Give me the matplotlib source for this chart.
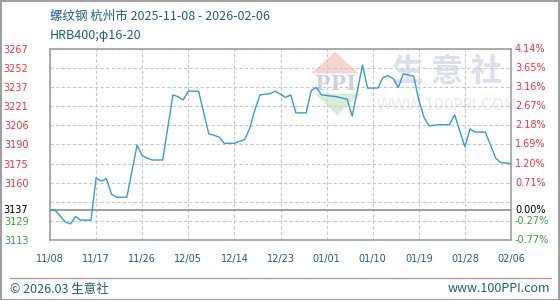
import matplotlib
matplotlib.use('Agg')
import matplotlib.pyplot as plt
import numpy as np
import pandas as pd
from matplotlib.patches import Polygon, Rectangle
from matplotlib.transforms import IdentityTransform
from matplotlib.lines import Line2D

# ---------------- data ----------------
title_text = "螺纹钢 杭州市 2025-11-08 - 2026-02-06"
subtitle_text = "HRB400;φ16-20"
footer_left = "© 2026.03 生意社"
footer_right = "www.100PPI.com"

dates = ['2025-11-08', '2025-11-09', '2025-11-11', '2025-11-12', '2025-11-13',
         '2025-11-14', '2025-11-16', '2025-11-17', '2025-11-18', '2025-11-19',
         '2025-11-20', '2025-11-21', '2025-11-23', '2025-11-25', '2025-11-26',
         '2025-11-27', '2025-11-28', '2025-11-30', '2025-12-02', '2025-12-03',
         '2025-12-04', '2025-12-05', '2025-12-07', '2025-12-09', '2025-12-10',
         '2025-12-11', '2025-12-12', '2025-12-14', '2025-12-15', '2025-12-16',
         '2025-12-17', '2025-12-18', '2025-12-19', '2025-12-21', '2025-12-22',
         '2025-12-24', '2025-12-25', '2025-12-26', '2025-12-28', '2025-12-29',
         '2025-12-30', '2025-12-31', '2026-01-03', '2026-01-05', '2026-01-06',
         '2026-01-07', '2026-01-08', '2026-01-09', '2026-01-11', '2026-01-12',
         '2026-01-13', '2026-01-14', '2026-01-15', '2026-01-16', '2026-01-18',
         '2026-01-19', '2026-01-20', '2026-01-21', '2026-01-23', '2026-01-25',
         '2026-01-26', '2026-01-28', '2026-01-29', '2026-01-30', '2026-02-01',
         '2026-02-03', '2026-02-04', '2026-02-06']
prices = [3137, 3137, 3127.5, 3126, 3132,
          3129, 3129, 3163, 3160.5, 3162.5,
          3150, 3147.5, 3147.5, 3189.5, 3181,
          3179, 3177.5, 3177.5, 3230, 3228.5,
          3226, 3233, 3233, 3198.5, 3197.5,
          3196, 3191, 3191, 3192.5, 3194,
          3203, 3218, 3230, 3231, 3233,
          3228, 3230, 3215.5, 3215.5, 3233.5,
          3236, 3230, 3228.5, 3226.5, 3213,
          3233, 3254, 3235.5, 3235.5, 3244,
          3245.5, 3243, 3236, 3247, 3245,
          3226, 3212, 3205, 3206, 3206,
          3214, 3188, 3202.5, 3200, 3200,
          3179, 3175.5, 3174.5]

base_price = 3137
y_min, y_max = 3113, 3267
left_labels = ['3113', '3129', '', '3160', '3175', '3190', '3206', '3221', '3237', '3252', '3267']
right_labels = ['-0.77%', '-0.27%', '', '0.71%', '1.20%', '1.69%', '2.18%', '2.67%', '3.16%', '3.65%', '4.14%']
base_left_label = '3137'
base_right_label = '0.00%'
x_tick_labels = ['11/08', '11/17', '11/26', '12/05', '12/14', '12/23',
                 '01/01', '01/10', '01/19', '01/28', '02/06']

# ---------------- style ----------------
W, H = 560, 300
CJK = ['Noto Sans CJK SC', 'DejaVu Sans']
blue_text = '#1F5F8B'
line_color = '#3A9AD9'
red = '#FF3333'
green = '#33AA33'
frame_gray = '#A0A0A0'
grid_gray = '#C8C8C8'
tick_fs = 7

fig = plt.figure(figsize=(W / 100, H / 100), dpi=100)
fig.patch.set_facecolor('white')

def fx(x):
    return x / W

def fy(y):
    return 1 - y / H

ax = fig.add_axes([fx(50), fy(240), 461 / W, 191 / H])
ax.set_facecolor('white')

x = pd.to_datetime(dates)
start = pd.Timestamp('2025-11-08')
end = pd.Timestamp('2026-02-06')
ax.set_xlim(start, end)
ax.set_ylim(y_min, y_max)

grid_vals = np.linspace(y_min, y_max, len(left_labels))
ax.set_yticks(grid_vals)
ax.set_yticklabels(left_labels)
for lab, txt in zip(ax.get_yticklabels(), left_labels):
    lab.set_color(green if float(txt or base_price) < base_price else red)
xt = pd.date_range(start, end, freq='9D')
ax.set_xticks(xt)
ax.set_xticklabels(x_tick_labels)
ax.tick_params(axis='x', length=0, pad=10, labelsize=tick_fs, labelcolor=blue_text)
ax.tick_params(axis='y', length=0, pad=15.5, labelsize=tick_fs)

ax.grid(True, linestyle=(0, (3, 2)), color=grid_gray, linewidth=0.8)
ax.set_axisbelow(True)
for s in ax.spines.values():
    s.set_color(frame_gray)
    s.set_linewidth(1.2)

# base line
ax.axhline(base_price, color='#999999', linewidth=1.3, zorder=1.5)
ax.text(-22 / 461, base_price, base_left_label, transform=ax.transAxes.__class__ and ax.get_yaxis_transform(),
        ha='right', va='center', fontsize=tick_fs, color='black')

# right axis labels
for v, t in zip(grid_vals, right_labels):
    if t:
        ax.text(1 + 4 / 461, v, t, transform=ax.get_yaxis_transform(), ha='left', va='center',
                fontsize=tick_fs, color=green if t.startswith('-') else red)
ax.text(1 + 4 / 461, base_price, base_right_label, transform=ax.get_yaxis_transform(),
        ha='left', va='center', fontsize=tick_fs, color='black')

# watermark (pixel coords, y from bottom)
ident = IdentityTransform()
def P(xx, yy):
    return (xx, H - yy)
ax.add_patch(Polygon([P(335, 51.7), P(311, 73.5), P(359, 73.5)], closed=True,
                     facecolor='#F9D3D0', edgecolor='none', transform=ident, zorder=0.2))
ax.add_patch(Polygon([P(315, 93.5), P(360, 93.5), P(337, 115)], closed=True,
                     facecolor='#D7EED6', edgecolor='none', transform=ident, zorder=0.2))
ax.text(336, H - 84, 'PPI', transform=ident, ha='center', va='center', fontsize=15,
        fontweight='bold', family='DejaVu Serif', color='#CBD3E3', zorder=0.3)
ax.text(447, H - 72, '生 意 社', transform=ident, ha='center', va='center', fontsize=23,
        family=CJK, fontweight='bold', color='#DCE0EC', zorder=0.3)
ax.text(447, H - 106, 'WWW.100PPI.COM', transform=ident, ha='center', va='center',
        fontsize=11, family='DejaVu Sans', color='#EBEBEB', zorder=0.3)

# the price line
ax.plot(x, prices, color=line_color, linewidth=1.0, zorder=3)

# titles
fig.text(fx(50), fy(16), title_text, ha='left', va='center', fontsize=9,
         family=CJK, color=blue_text)
fig.text(fx(50), fy(35), subtitle_text, ha='left', va='center', fontsize=9,
         family=CJK, color=blue_text)

# footer
fig.add_artist(Line2D([fx(10), fx(551)], [fy(278), fy(278)], color=frame_gray, linewidth=1.0))
fig.text(fx(10), fy(289), footer_left, ha='left', va='center', fontsize=9,
         family=CJK, color=blue_text)
fig.text(fx(550), fy(289), footer_right, ha='right', va='center', fontsize=9,
         family=CJK, color=blue_text)

# outer border
fig.add_artist(Rectangle((0.5 / W, 0.5 / H), 1 - 1.5 / W, 1 - 1.5 / H, transform=fig.transFigure,
                         fill=False, edgecolor=frame_gray, linewidth=1.5))

fig.savefig('out.png', dpi=100)
